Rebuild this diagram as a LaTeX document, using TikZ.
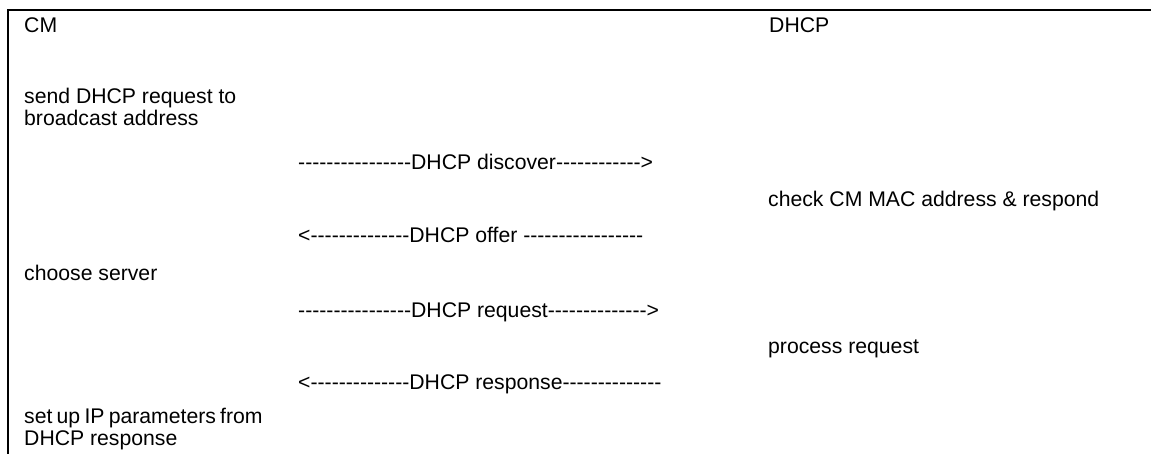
\documentclass[tikz,border=0pt]{standalone}
\usepackage{fontspec}
\setmainfont{Liberation Sans}
\newcommand\hyph[1]{\foreach \k in {1,...,#1}{-}}
\begin{document}
\begin{tikzpicture}[x=1pt,y=-1pt,
  every node/.style={inner sep=0pt, font=\fontsize{21.2}{22}\selectfont},
  lbl/.style={anchor=base west},
  multi/.style={anchor=base west, align=left},
  frame/.style={line width=2.2pt}]
\useasboundingbox (0,0) rectangle (1151,454);
\draw[frame] (8,454) -- (8,10) -- (1151,10);
\node[lbl] (cm) at (24,33) {CM};
\node[lbl] (dhcp) at (769,33) {DHCP};
% base anchor of a multi-line node is the baseline of its last line
\node[multi] (send) at (24,126) {send DHCP request to\\broadcast address};
\node[lbl] (disc) at (298,170) {\hyph{16}DHCP discover\hyph{12}>};
\node[lbl] (check) at (768,207) {check CM MAC address \& respond};
\node[lbl] (offer) at (298,243) {<\hyph{14}DHCP offer \hyph{17}};
\node[lbl] (choose) at (24,281) {choose server};
\node[lbl] (req) at (298,317) {\hyph{16}DHCP request\hyph{14}>};
\node[lbl] (proc) at (768,353) {process request};
\node[lbl] (resp) at (298,389) {<\hyph{14}DHCP response\hyph{14}};
\node[multi] (setup) at (24,445) {\spaceskip=0.2em set up IP parameters from\\DHCP response};
\end{tikzpicture}
\end{document}
